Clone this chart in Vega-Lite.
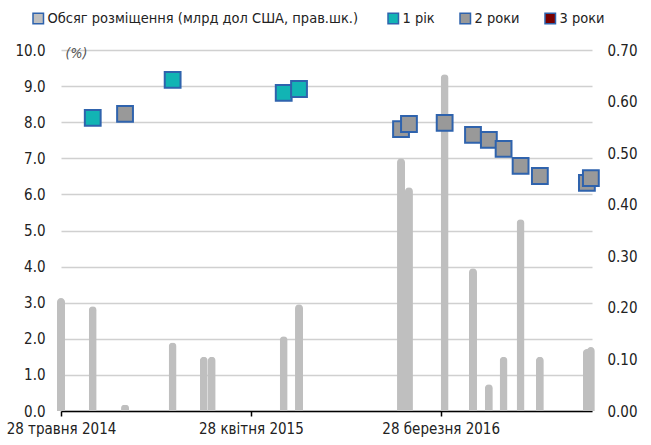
{
  "$schema": "https://vega.github.io/schema/vega-lite/v6.json",
  "width": 531,
  "height": 361,
  "autosize": {"type": "none"},
  "padding": {"left": 61, "top": 50, "right": 59, "bottom": 34},
  "background": "white",
  "config": {
    "font": "DejaVu Sans Condensed",
    "view": {"stroke": null},
    "axis": {"labelFont": "DejaVu Sans Condensed", "labelFontSize": 15, "labelColor": "#222222", "titleFont": "DejaVu Sans Condensed"},
    "legend": {"labelFont": "DejaVu Sans Condensed", "labelFontSize": 14.5, "labelColor": "#222222", "labelLimit": 500}
  },
  "data": {
    "values": [
      {"date": "2014-05-28", "volume": 0.219, "rate": null, "term": null},
      {"date": "2014-07-23", "volume": 0.203, "rate": 8.12, "term": "1 рік"},
      {"date": "2014-09-18", "volume": 0.012, "rate": 8.23, "term": "2 роки"},
      {"date": "2014-12-11", "volume": 0.133, "rate": 9.17, "term": "1 рік"},
      {"date": "2015-02-04", "volume": 0.105, "rate": null, "term": null},
      {"date": "2015-02-18", "volume": 0.105, "rate": null, "term": null},
      {"date": "2015-06-25", "volume": 0.145, "rate": 8.81, "term": "1 рік"},
      {"date": "2015-07-22", "volume": 0.207, "rate": 8.92, "term": "1 рік"},
      {"date": "2016-01-18", "volume": 0.49, "rate": 7.81, "term": "2 роки"},
      {"date": "2016-02-01", "volume": 0.434, "rate": 7.95, "term": "2 роки"},
      {"date": "2016-04-04", "volume": 0.653, "rate": 7.98, "term": "2 роки"},
      {"date": "2016-05-24", "volume": 0.277, "rate": 7.65, "term": "2 роки"},
      {"date": "2016-06-21", "volume": 0.052, "rate": 7.51, "term": "2 роки"},
      {"date": "2016-07-17", "volume": 0.105, "rate": 7.26, "term": "2 роки"},
      {"date": "2016-08-16", "volume": 0.372, "rate": 6.79, "term": "2 роки"},
      {"date": "2016-09-19", "volume": 0.105, "rate": 6.51, "term": "2 роки"},
      {"date": "2016-12-11", "volume": 0.12, "rate": 6.32, "term": "2 роки"},
      {"date": "2016-12-18", "volume": 0.124, "rate": 6.45, "term": "2 роки"}
    ]
  },
  "layer": [
    {
      "mark": {"type": "bar", "width": 8, "color": "#bfbfbf", "cornerRadiusEnd": 4},
      "encoding": {
        "x": {
          "field": "date",
          "type": "temporal",
          "scale": {"type": "utc", "padding": 0, "domain": [{"year": 2014, "month": 5, "date": 28, "utc": true}, {"year": 2016, "month": 12, "date": 20, "utc": true}]},
          "axis": {
            "title": null,
            "grid": false,
            "domainColor": "#000000",
            "domainWidth": 1.5,
            "tickColor": "#000000",
            "tickWidth": 1.5,
            "tickSize": 5,
            "labelPadding": 5,
            "labelFlush": false,
            "labelOverlap": false,
            "values": [
              {"year": 2014, "month": 5, "date": 28, "utc": true},
              {"year": 2015, "month": 4, "date": 28, "utc": true},
              {"year": 2016, "month": 3, "date": 28, "utc": true}
            ],
            "labelExpr": "utcmonth(datum.value) == 4 ? '28 травня  2014' : utcmonth(datum.value) == 3 ? '28 квітня  2015' : '28 березня 2016'"
          }
        },
        "y": {
          "field": "volume",
          "type": "quantitative",
          "scale": {"domain": [0, 0.7]},
          "axis": {
            "orient": "right",
            "title": null,
            "values": [0, 0.1, 0.2, 0.3, 0.4, 0.5, 0.6, 0.7],
            "format": ".2f",
            "grid": false,
            "domain": false,
            "ticks": false,
            "labelPadding": 15
          }
        }
      }
    },
    {
      "transform": [{"filter": "datum.term != null"}],
      "mark": {"type": "point", "shape": "square", "filled": true, "size": 250, "stroke": "#2f63ad", "strokeWidth": 2, "opacity": 1},
      "encoding": {
        "x": {"field": "date", "type": "temporal"},
        "y": {
          "field": "rate",
          "type": "quantitative",
          "scale": {"domain": [0, 10]},
          "axis": {
            "orient": "left",
            "values": [0, 1, 2, 3, 4, 5, 6, 7, 8, 9, 10],
            "format": ".1f",
            "grid": true,
            "gridColor": "#d0d0d0",
            "gridWidth": 1.5,
            "domain": false,
            "ticks": false,
            "labelPadding": 16,
            "title": "(%)",
            "titleAngle": 0,
            "titleX": 4,
            "titleY": 3,
            "titleAlign": "left",
            "titleBaseline": "middle",
            "titleFontStyle": "italic",
            "titleFontWeight": "normal",
            "titleFontSize": 14,
            "titleColor": "#555555"
          }
        },
        "color": {
          "field": "term",
          "type": "nominal",
          "scale": {
            "domain": ["Обсяг розміщення (млрд дол  США, прав.шк.)", "1 рік", "2 роки", "3 роки"],
            "range": ["#bfbfbf", "#12b4b4", "#999999", "#7a0000"]
          },
          "legend": {
            "title": null,
            "orient": "none",
            "direction": "horizontal",
            "legendX": -30,
            "legendY": -39,
            "symbolType": "square",
            "symbolSize": 110,
            "symbolOpacity": 1,
            "columnPadding": 22,
            "labelOffset": 2,
            "encode": {
              "symbols": {
                "update": {
                  "stroke": {"signal": "datum.value === '1 рік' || datum.value === '2 роки' ? '#2f63ad' : datum.value === '3 роки' ? '#4a0000' : '#bfbfbf'"},
                  "strokeWidth": {"value": 1.5}
                }
              }
            }
          }
        }
      }
    }
  ],
  "resolve": {"scale": {"y": "independent"}}
}
